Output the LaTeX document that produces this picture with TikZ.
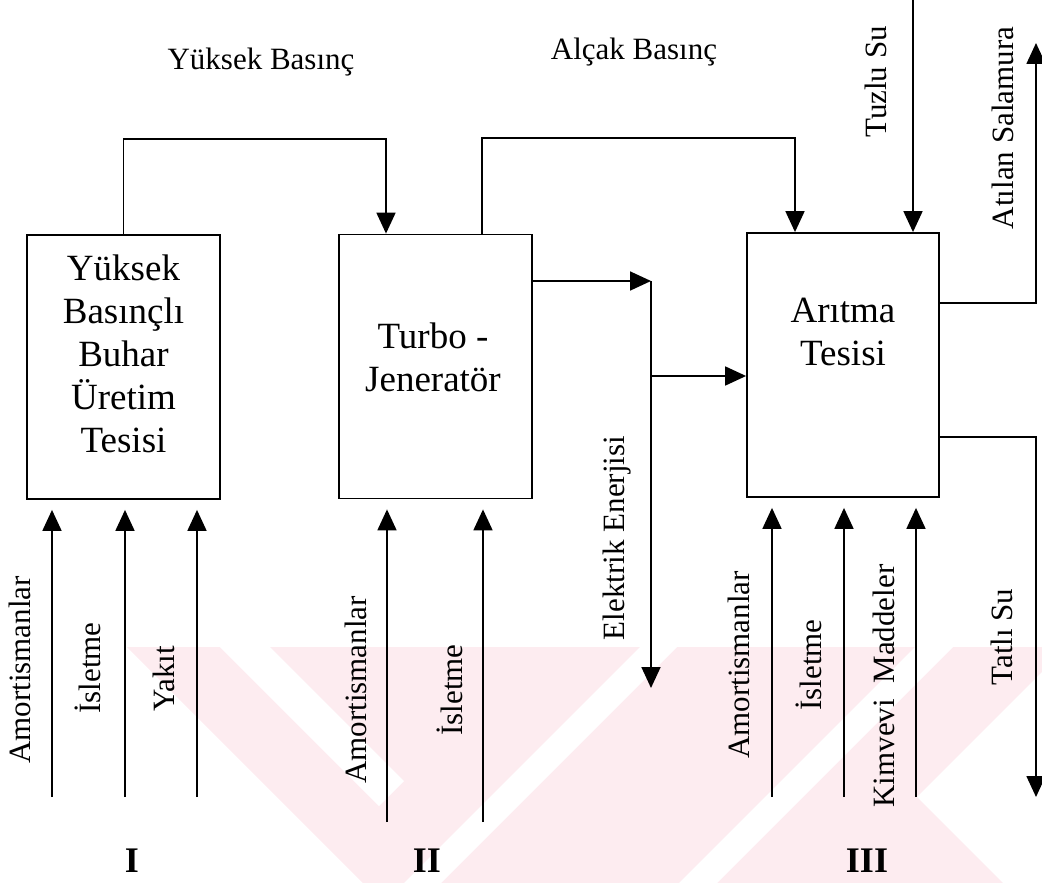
\documentclass[tikz,border=0pt]{standalone}
\usepackage{fontspec}
\setmainfont{Liberation Serif}
\usetikzlibrary{arrows.meta}
\definecolor{wm}{RGB}{253,236,240}

\begin{document}
\begin{tikzpicture}[x=1pt,y=-1pt,
  wire/.style={line width=1.8pt},
  flow/.style={wire, -{Triangle[length=21pt,width=19pt]}},
  feed/.style={flow, shorten >=10pt},
  plant/.style={draw, line width=1.8pt, inner sep=0pt, minimum width=193pt, minimum height=264pt},
  lbl/.style={font=\fontsize{31}{37}\selectfont, inner sep=0pt},
  vlbl/.style={lbl, rotate=90},
  boxtxt/.style={font=\fontsize{37}{43}\selectfont, align=center, inner sep=0pt},
  num/.style={font=\fontsize{36}{40}\selectfont\bfseries, inner sep=0pt}]
\useasboundingbox (0,0) rectangle (1042,883);

% faint striped background band along the lower part
\fill[wm] (127,647) -- (1042,647) -- (1042,883) -- (363,883) -- cycle;
\fill[white] (220,647) -- (270,647) -- (404,781) -- (379,806) -- cycle;
\fill[white] (640,647) -- (677,647) -- (441,883) -- (404,883) -- cycle;
\fill[white] (915,647) -- (953,647) -- (717,883) -- (679,883) -- cycle;
\fill[white] (917,797) -- (1042,672) -- (1042,883) -- (1003,883) -- cycle;

% plants
\node[plant] (b1) at (123.5,367) {};
\node[plant] (b2) at (435.5,366.5) {};
\node[plant, minimum width=192pt] (b3) at (843,365) {};

\node[boxtxt] (t1) at (123.5,354) {Yüksek\\Basınçlı\\Buhar\\Üretim\\Tesisi};
\node[boxtxt] (t2) at (433,357) {Turbo -\\Jeneratör};
\node[boxtxt] (t3) at (843,332) {Arıtma\\Tesisi};

% steam lines
\coordinate (hp) at (386,139);
\draw[flow] (b1.north) |- (hp) -- (hp |- b2.north);
\coordinate (lp0) at (482,138);
\coordinate (lp1) at (795,138);
\draw[flow] (lp0 |- b2.north) -- (lp0) -- (lp1) -- (lp1 |- b3.north);
\node[lbl, anchor=base] (hpl) at (261,70) {Yüksek Basınç};
\node[lbl, anchor=base] (lpl) at (634,60) {Alçak Basınç};

% sea water in, brine out, fresh water out
\coordinate (sw) at (913,0);
\draw[flow] (sw) -- (sw |- b3.north);
\node[vlbl] (swl) at (876,82) {Tuzlu Su};

\coordinate (br0) at (1036,303);
\coordinate (br1) at (1036,43);
\draw[flow] (b3.east |- br0) -- (br0) -- (br1);
\node[vlbl] (brl) at (1003,128) {Atılan Salamura};

\coordinate (fw0) at (1036,437);
\coordinate (fw1) at (1036,797);
\draw[flow] (b3.east |- fw0) -- (fw0) -- (fw1);
\node[vlbl] (fwl) at (1002,637) {Tatlı Su};

% electricity
\coordinate (el0) at (651,281);
\coordinate (el1) at (651,376);
\coordinate (el2) at (651,688);
\draw[flow] (b2.east |- el0) -- (el0);
\draw[flow] (el0) -- (el2);
\draw[flow] (el1) -- (b3.west |- el1);
\node[vlbl] (ell) at (617,538) {Elektrik Enerjisi};

% cost inputs, plant I
\coordinate (a1) at (52,797);
\coordinate (a2) at (125,797);
\coordinate (a3) at (197,797);
\draw[feed] (a1) -- (a1 |- b1.south);
\draw[feed] (a2) -- (a2 |- b1.south);
\draw[feed] (a3) -- (a3 |- b1.south);
\node[vlbl] (a1l) at (20,670) {Amortismanlar};
\node[vlbl] (a2l) at (88,668) {İsletme};
\node[vlbl] (a3l) at (164,679) {Yakıt};

% cost inputs, plant II
\coordinate (c1) at (387,822);
\coordinate (c2) at (483,822);
\draw[feed] (c1) -- (c1 |- b2.south);
\draw[feed] (c2) -- (c2 |- b2.south);
\node[vlbl] (c1l) at (356,690) {Amortismanlar};
\node[vlbl] (c2l) at (450,690) {İsletme};

% cost inputs, plant III
\coordinate (d1) at (772,797);
\coordinate (d2) at (844,797);
\coordinate (d3) at (916,797);
\draw[feed] (d1) -- (d1 |- b3.south);
\draw[feed] (d2) -- (d2 |- b3.south);
\draw[feed] (d3) -- (d3 |- b3.south);
\node[vlbl] (d1l) at (739,665) {Amortismanlar};
\node[vlbl] (d2l) at (809,665) {İsletme};
\node[vlbl] (d3l) at (884,686) {Kimvevi~~Maddeler};

% plant numbers
\node[num] (n1) at (132,861) {I};
\node[num] (n2) at (427,861) {II};
\node[num] (n3) at (867,861) {III};
\end{tikzpicture}
\end{document}
